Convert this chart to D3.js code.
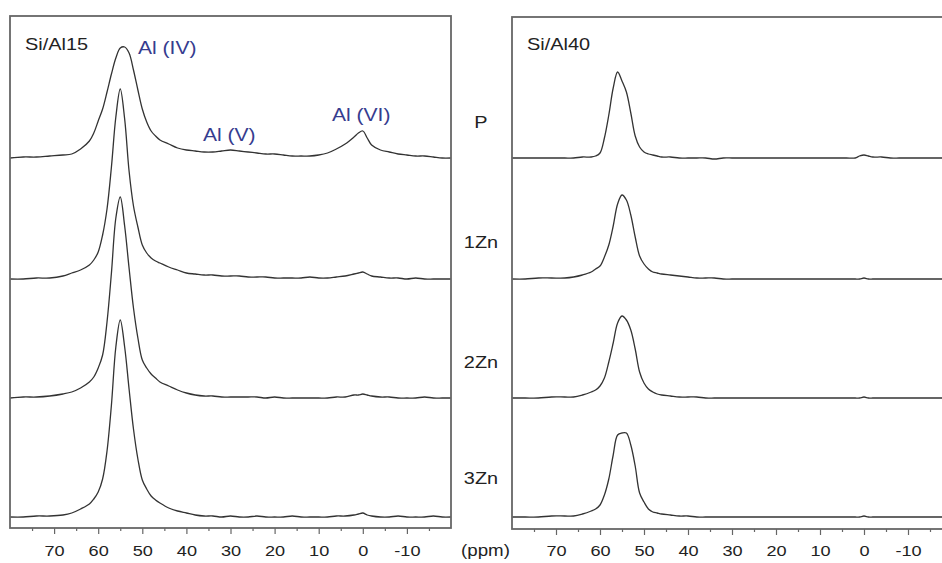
<!DOCTYPE html>
<html lang="en">
<head>
    <meta charset="UTF-8">
    <title>27Al MAS NMR</title>
    <script src="https://cdn.jsdelivr.net/npm/d3@7/dist/d3.min.js"></script>
</head>
<style>
    body { margin: 0; background: #fff; }
    text { font-family: "Liberation Sans", Arial, sans-serif; }
</style>
<body>
</body>
</html>
<script>
    // chemical shift grid (ppm), shared by every trace
    var ppm = [80, 77, 74, 71, 68,
        66, 64, 62,
        61, 60, 59, 58, 57, 56, 55, 54,
        53, 52, 51, 50, 49, 48, 47, 46,
        44, 42, 40, 38, 36, 34, 32, 30, 28, 26, 24,
        22, 20, 18, 16, 14, 12, 10, 8, 6, 4, 2,
        1, 0, -1,
        -2, -4, -6, -8, -10, -12, -14, -16, -18, -20];

    var samples = ["P", "1Zn", "2Zn", "3Zn"];

    // Si/Al15 intensities
    var al15_P = [0, 1, 1, 2, 3,
        4, 9, 17,
        25, 37, 49, 66, 84, 100, 110, 111,
        105, 88, 68, 49, 36, 27, 22, 18,
        14, 10, 8, 7, 6, 6, 7, 8, 7, 6, 5,
        4, 4, 3, 2, 2, 2, 3, 5, 9, 14, 21,
        25, 27, 20,
        13, 8, 6, 4, 3, 2, 2, 1, 0, 0];
    var al15_1Zn = [0, 0, 1, 1, 3,
        6, 9, 14,
        19, 27, 44, 70, 112, 162, 190, 160,
        108, 73, 52, 34, 26, 21, 18, 16,
        12, 9, 6, 5, 4, 4, 3, 3, 3, 2, 2,
        2, 1, 1, 1, 1, 2, 1, 1, 2, 3, 5,
        6, 7, 5,
        3, 2, 1, 1, 0, 1, 0, 0, 0, 0];
    var al15_2Zn = [0, 1, 1, 2, 4,
        6, 10, 16,
        21, 30, 43, 76, 125, 180, 201, 172,
        130, 90, 60, 38, 30, 24, 20, 16,
        12, 8, 5, 3, 2, 2, 1, 1, 1, 1, 1,
        0, 1, 0, 0, 0, 0, 0, 0, 1, 1, 3,
        3, 4, 3,
        2, 1, 1, 0, 0, 0, 1, 0, 0, 0];
    var al15_3Zn = [0, 0, 1, 1, 2,
        4, 8, 13,
        18, 25, 38, 66, 112, 170, 197, 170,
        128, 88, 58, 37, 28, 21, 17, 14,
        9, 6, 4, 2, 1, 1, 0, 1, 0, 0, 1,
        0, 0, 0, 1, 0, 0, 0, 0, 1, 1, 2,
        3, 4, 2,
        1, 0, 0, 1, 0, 0, 0, 1, 0, 0];

    // Si/Al40 intensities
    var al40_P = [0, 0, 0, 0, 0,
        0, 1, 1,
        2, 5, 20, 43, 70, 86, 77, 66,
        45, 22, 11, 6, 4, 3, 2, 1,
        1, 0, 0, 0, 0, -1, 0, 0, 0, 0, 0,
        0, 0, 0, 0, 0, 0, 0, 0, 0, 0, 0,
        2, 3, 2,
        1, 1, 0, 0, 0, 0, 0, 0, 0, 0];
    var al40_1Zn = [0, 0, 1, 1, 1,
        2, 4, 7,
        10, 13, 22, 34, 53, 75, 84, 79,
        64, 42, 23, 15, 10, 7, 6, 5,
        4, 3, 2, 1, 1, 1, 0, 0, 0, 0, 0,
        0, 0, 0, 0, 0, 0, 0, 0, 0, 0, 0,
        0, 1, 0,
        0, 0, 0, 0, 0, 0, 0, 0, 0, 0];
    var al40_2Zn = [0, 0, 0, 1, 1,
        1, 3, 6,
        8, 12, 20, 36, 55, 75, 82, 78,
        68, 49, 26, 15, 9, 6, 4, 3,
        2, 1, 1, 1, 0, 0, 0, 0, 0, 0, 0,
        0, 0, 0, 0, 0, 0, 0, 0, 0, 0, 0,
        0, 1, 0,
        0, 0, 0, 0, 0, 0, 0, 0, 0, 0];
    var al40_3Zn = [0, 0, 0, 1, 1,
        1, 3, 6,
        8, 12, 22, 38, 62, 82, 84, 84,
        72, 51, 24, 15, 8, 5, 4, 3,
        2, 1, 1, 0, 0, 0, 0, 0, 0, 0, 0,
        0, 0, 0, 0, 0, 0, 0, 0, 0, 0, 0,
        0, 1, 0,
        0, 0, 0, 0, 0, 0, 0, 0, 0, 0];

    var majorTicks = [70, 60, 50, 40, 30, 20, 10, 0, -10];
    var minorTicks = [75, 65, 55, 45, 35, 25, 15, 5, -5, -15];

    var w = 942, h = 563;
    var stretch = 1.17;          // text in the picture is a bit wide
    var stackOffset = [359, 238, 119, 0];   // P, 1Zn, 2Zn, 3Zn

    var svg = d3.select("body").append("svg")
            .attr("width", w)
            .attr("height", h);

    var y = d3.scaleLinear().domain([0, 500]).range([517, 17]);

    function label(txt, x, yy, size, color, anchor) {
        svg.append("text")
                .attr("transform", "translate(" + x + "," + yy + ") scale(" + stretch + ",1)")
                .attr("text-anchor", anchor || "start")
                .attr("font-size", size + "px")
                .attr("fill", color)
                .text(txt);
    }

    function panel(series, left, right, top, bottom, name) {
        var x = d3.scaleLinear().domain([80, -20]).range([left, right]);

        var line = d3.line()
                .x(function (d, i) { return x(ppm[i]); })
                .y(function (d) { return d; })
                .curve(d3.curveCatmullRom.alpha(0.5));

        series.forEach(function (s, k) {
            svg.append("path")
                    .attr("d", line(s.map(function (v) { return y(v + stackOffset[k]); })))
                    .attr("fill", "none")
                    .attr("stroke", "#333")
                    .attr("stroke-width", 1.3);
        });

        // minor ticks
        svg.append("g")
                .attr("transform", "translate(0," + bottom + ")")
                .call(d3.axisBottom(x).tickValues(minorTicks).tickSize(3).tickFormat(""))
                .call(function (g) { g.select(".domain").remove(); })
                .selectAll("line").attr("stroke", "#666").attr("stroke-width", 1.2);

        var ax = svg.append("g")
                .attr("transform", "translate(0," + bottom + ")")
                .call(d3.axisBottom(x).tickValues(majorTicks).tickSize(6)
                        .tickFormat(function (d) { return d; }));
        ax.select(".domain").remove();
        ax.selectAll("line").attr("stroke", "#666").attr("stroke-width", 1.2);
        ax.selectAll("text")
                .attr("y", 556 - bottom)
                .attr("dy", null)
                .attr("transform", "scale(" + stretch + ",1)")
                .attr("font-size", "15.5px")
                .attr("font-family", "Liberation Sans, Arial, sans-serif")
                .attr("fill", "#222");

        svg.append("rect")
                .attr("x", left).attr("y", top)
                .attr("width", right - left).attr("height", bottom - top)
                .attr("fill", "none")
                .attr("stroke", "#666")
                .attr("stroke-width", 1.8);

        label(name, left + 15, 50, 17, "#222");
    }

    panel([al15_P, al15_1Zn, al15_2Zn, al15_3Zn], 10, 451, 16, 528, "Si/Al15");
    panel([al40_P, al40_1Zn, al40_2Zn, al40_3Zn], 512, 952, 17, 529, "Si/Al40");

    // peak assignments
    label("Al (IV)", 138, 54, 18, "#363c8f");
    label("Al (V)", 203, 141, 18, "#363c8f");
    label("Al (VI)", 332, 121, 18, "#363c8f");

    // sample names between the panels
    var sampleY = [128, 248, 368, 484];
    samples.forEach(function (s, i) {
        label(s, 481, sampleY[i], 17, "#222", "middle");
    });

    label("(ppm)", 461, 556, 16, "#222");
</script>
